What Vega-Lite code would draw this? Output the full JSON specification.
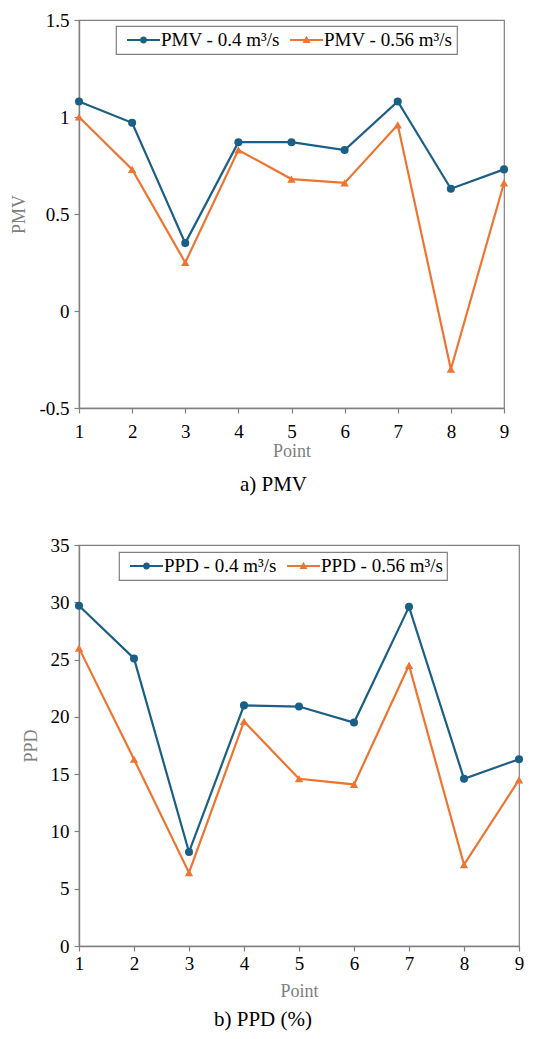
{
  "$schema": "https://vega.github.io/schema/vega-lite/v6.json",
  "background": "white",
  "padding": {"top": 10, "left": 10, "right": 10, "bottom": 5},
  "spacing": 39,
  "datasets": {
    "pmv": [
      {"Point": 1, "Series": "PMV - 0.4 m³/s", "Value": 1.08},
      {"Point": 2, "Series": "PMV - 0.4 m³/s", "Value": 0.97},
      {"Point": 3, "Series": "PMV - 0.4 m³/s", "Value": 0.35},
      {"Point": 4, "Series": "PMV - 0.4 m³/s", "Value": 0.87},
      {"Point": 5, "Series": "PMV - 0.4 m³/s", "Value": 0.87},
      {"Point": 6, "Series": "PMV - 0.4 m³/s", "Value": 0.83},
      {"Point": 7, "Series": "PMV - 0.4 m³/s", "Value": 1.08},
      {"Point": 8, "Series": "PMV - 0.4 m³/s", "Value": 0.63},
      {"Point": 9, "Series": "PMV - 0.4 m³/s", "Value": 0.73},
      {"Point": 1, "Series": "PMV - 0.56 m³/s", "Value": 1.0},
      {"Point": 2, "Series": "PMV - 0.56 m³/s", "Value": 0.73},
      {"Point": 3, "Series": "PMV - 0.56 m³/s", "Value": 0.25},
      {"Point": 4, "Series": "PMV - 0.56 m³/s", "Value": 0.83},
      {"Point": 5, "Series": "PMV - 0.56 m³/s", "Value": 0.68},
      {"Point": 6, "Series": "PMV - 0.56 m³/s", "Value": 0.66},
      {"Point": 7, "Series": "PMV - 0.56 m³/s", "Value": 0.96},
      {"Point": 8, "Series": "PMV - 0.56 m³/s", "Value": -0.3},
      {"Point": 9, "Series": "PMV - 0.56 m³/s", "Value": 0.66}
    ],
    "ppd": [
      {"Point": 1, "Series": "PPD - 0.4 m³/s", "Value": 29.7},
      {"Point": 2, "Series": "PPD - 0.4 m³/s", "Value": 25.1},
      {"Point": 3, "Series": "PPD - 0.4 m³/s", "Value": 8.2},
      {"Point": 4, "Series": "PPD - 0.4 m³/s", "Value": 21.0},
      {"Point": 5, "Series": "PPD - 0.4 m³/s", "Value": 20.9},
      {"Point": 6, "Series": "PPD - 0.4 m³/s", "Value": 19.5},
      {"Point": 7, "Series": "PPD - 0.4 m³/s", "Value": 29.6},
      {"Point": 8, "Series": "PPD - 0.4 m³/s", "Value": 14.6},
      {"Point": 9, "Series": "PPD - 0.4 m³/s", "Value": 16.3},
      {"Point": 1, "Series": "PPD - 0.56 m³/s", "Value": 26.0},
      {"Point": 2, "Series": "PPD - 0.56 m³/s", "Value": 16.3},
      {"Point": 3, "Series": "PPD - 0.56 m³/s", "Value": 6.4},
      {"Point": 4, "Series": "PPD - 0.56 m³/s", "Value": 19.6},
      {"Point": 5, "Series": "PPD - 0.56 m³/s", "Value": 14.6},
      {"Point": 6, "Series": "PPD - 0.56 m³/s", "Value": 14.1},
      {"Point": 7, "Series": "PPD - 0.56 m³/s", "Value": 24.5},
      {"Point": 8, "Series": "PPD - 0.56 m³/s", "Value": 7.1},
      {"Point": 9, "Series": "PPD - 0.56 m³/s", "Value": 14.5}
    ]
  },
  "resolve": {"scale": {"color": "independent"}, "legend": {"color": "independent"}},
  "vconcat": [
    {
      "width": 425,
      "height": 388,
      "data": {"name": "pmv"},
      "title": {"text": "a) PMV", "orient": "bottom", "anchor": "middle", "frame": "group", "dx": -18, "offset": 14},
      "encoding": {
        "x": {"field": "Point", "type": "quantitative", "scale": {"domain": [1, 9], "nice": false, "zero": false},
              "axis": {"values": [1, 2, 3, 4, 5, 6, 7, 8, 9], "format": "d", "title": "Point"}},
        "y": {"field": "Value", "type": "quantitative", "scale": {"domain": [-0.5, 1.5], "nice": false, "zero": false},
              "axis": {"values": [-0.5, 0, 0.5, 1, 1.5], "labelExpr": "'' + datum.value", "title": "PMV"}},
        "color": {"field": "Series", "type": "nominal",
                  "scale": {"domain": ["PMV - 0.4 m³/s", "PMV - 0.56 m³/s"], "range": ["#1b5f86", "#ee7531"]},
                  "legend": {"orient": "none", "legendX": 37, "legendY": 6, "direction": "horizontal", "title": null,
                             "strokeColor": "#808080", "fillColor": "white", "padding": 4, "symbolSize": 400,
                             "labelOffset": 21, "columnPadding": 3,
                             "encode": {"symbols": {"update": {
                               "shape": {"signal": "datum.value === 'PMV - 0.4 m³/s' ? 'M-0.3,-0.11H3V0.11H-0.3Z M1.7,0A0.35,0.35 0 1,1 1,0A0.35,0.35 0 1,1 1.7,0Z' : 'M-0.3,-0.11H3V0.11H-0.3Z M1.35,-0.42L1.75,0.3L0.95,0.3Z'"},
                               "fill": {"signal": "datum.value === 'PMV - 0.4 m³/s' ? '#1b5f86' : '#ee7531'"},
                               "strokeWidth": {"value": 0},
                               "opacity": {"value": 1}}}}}}
      },
      "layer": [
        {"mark": {"type": "line", "strokeWidth": 2.2}},
        {"transform": [{"filter": "datum.Series === 'PMV - 0.4 m³/s'"}],
         "mark": {"type": "point", "shape": "circle", "filled": true, "opacity": 1, "size": 65}},
        {"transform": [{"filter": "datum.Series === 'PMV - 0.56 m³/s'"}],
         "mark": {"type": "point", "shape": "triangle-up", "filled": true, "opacity": 1, "size": 70}}
      ]
    },
    {
      "width": 440,
      "height": 401,
      "data": {"name": "ppd"},
      "title": {"text": "b) PPD (%)", "orient": "bottom", "anchor": "middle", "frame": "group", "dx": -36, "offset": 9},
      "encoding": {
        "x": {"field": "Point", "type": "quantitative", "scale": {"domain": [1, 9], "nice": false, "zero": false},
              "axis": {"values": [1, 2, 3, 4, 5, 6, 7, 8, 9], "format": "d", "title": "Point", "labelPadding": 3, "titlePadding": 9}},
        "y": {"field": "Value", "type": "quantitative", "scale": {"domain": [0, 35], "nice": false},
              "axis": {"values": [0, 5, 10, 15, 20, 25, 30, 35], "format": "d", "title": "PPD"}},
        "color": {"field": "Series", "type": "nominal",
                  "scale": {"domain": ["PPD - 0.4 m³/s", "PPD - 0.56 m³/s"], "range": ["#1b5f86", "#ee7531"]},
                  "legend": {"orient": "none", "legendX": 40, "legendY": 7, "direction": "horizontal", "title": null,
                             "strokeColor": "#808080", "fillColor": "white", "padding": 4, "symbolSize": 400,
                             "labelOffset": 21, "columnPadding": 3,
                             "encode": {"symbols": {"update": {
                               "shape": {"signal": "datum.value === 'PPD - 0.4 m³/s' ? 'M-0.3,-0.11H3V0.11H-0.3Z M1.7,0A0.35,0.35 0 1,1 1,0A0.35,0.35 0 1,1 1.7,0Z' : 'M-0.3,-0.11H3V0.11H-0.3Z M1.35,-0.42L1.75,0.3L0.95,0.3Z'"},
                               "fill": {"signal": "datum.value === 'PPD - 0.4 m³/s' ? '#1b5f86' : '#ee7531'"},
                               "strokeWidth": {"value": 0},
                               "opacity": {"value": 1}}}}}}
      },
      "layer": [
        {"mark": {"type": "line", "strokeWidth": 2.2}},
        {"transform": [{"filter": "datum.Series === 'PPD - 0.4 m³/s'"}],
         "mark": {"type": "point", "shape": "circle", "filled": true, "opacity": 1, "size": 65}},
        {"transform": [{"filter": "datum.Series === 'PPD - 0.56 m³/s'"}],
         "mark": {"type": "point", "shape": "triangle-up", "filled": true, "opacity": 1, "size": 70}}
      ]
    }
  ],
  "config": {
    "font": "Liberation Serif",
    "view": {"stroke": "#808080", "strokeWidth": 1.2},
    "axis": {
      "grid": false,
      "domainColor": "#808080",
      "domainWidth": 1.4,
      "tickColor": "#808080",
      "tickWidth": 1.2,
      "tickSize": 5,
      "labelFont": "Liberation Serif",
      "labelFontSize": 19,
      "labelColor": "black",
      "labelPadding": 5,
      "titleFont": "Liberation Serif",
      "titleFontSize": 18,
      "titleFontWeight": "normal",
      "titleColor": "#808080"
    },
    "axisX": {"titlePadding": 1, "labelPadding": 9, "labelFlush": false},
    "axisY": {"titlePadding": 10},
    "legend": {"labelFont": "Liberation Serif", "labelFontSize": 19, "labelColor": "black", "cornerRadius": 0, "strokeWidth": 1.2},
    "title": {"font": "Liberation Serif", "fontSize": 21, "fontWeight": "normal", "color": "black"}
  }
}
